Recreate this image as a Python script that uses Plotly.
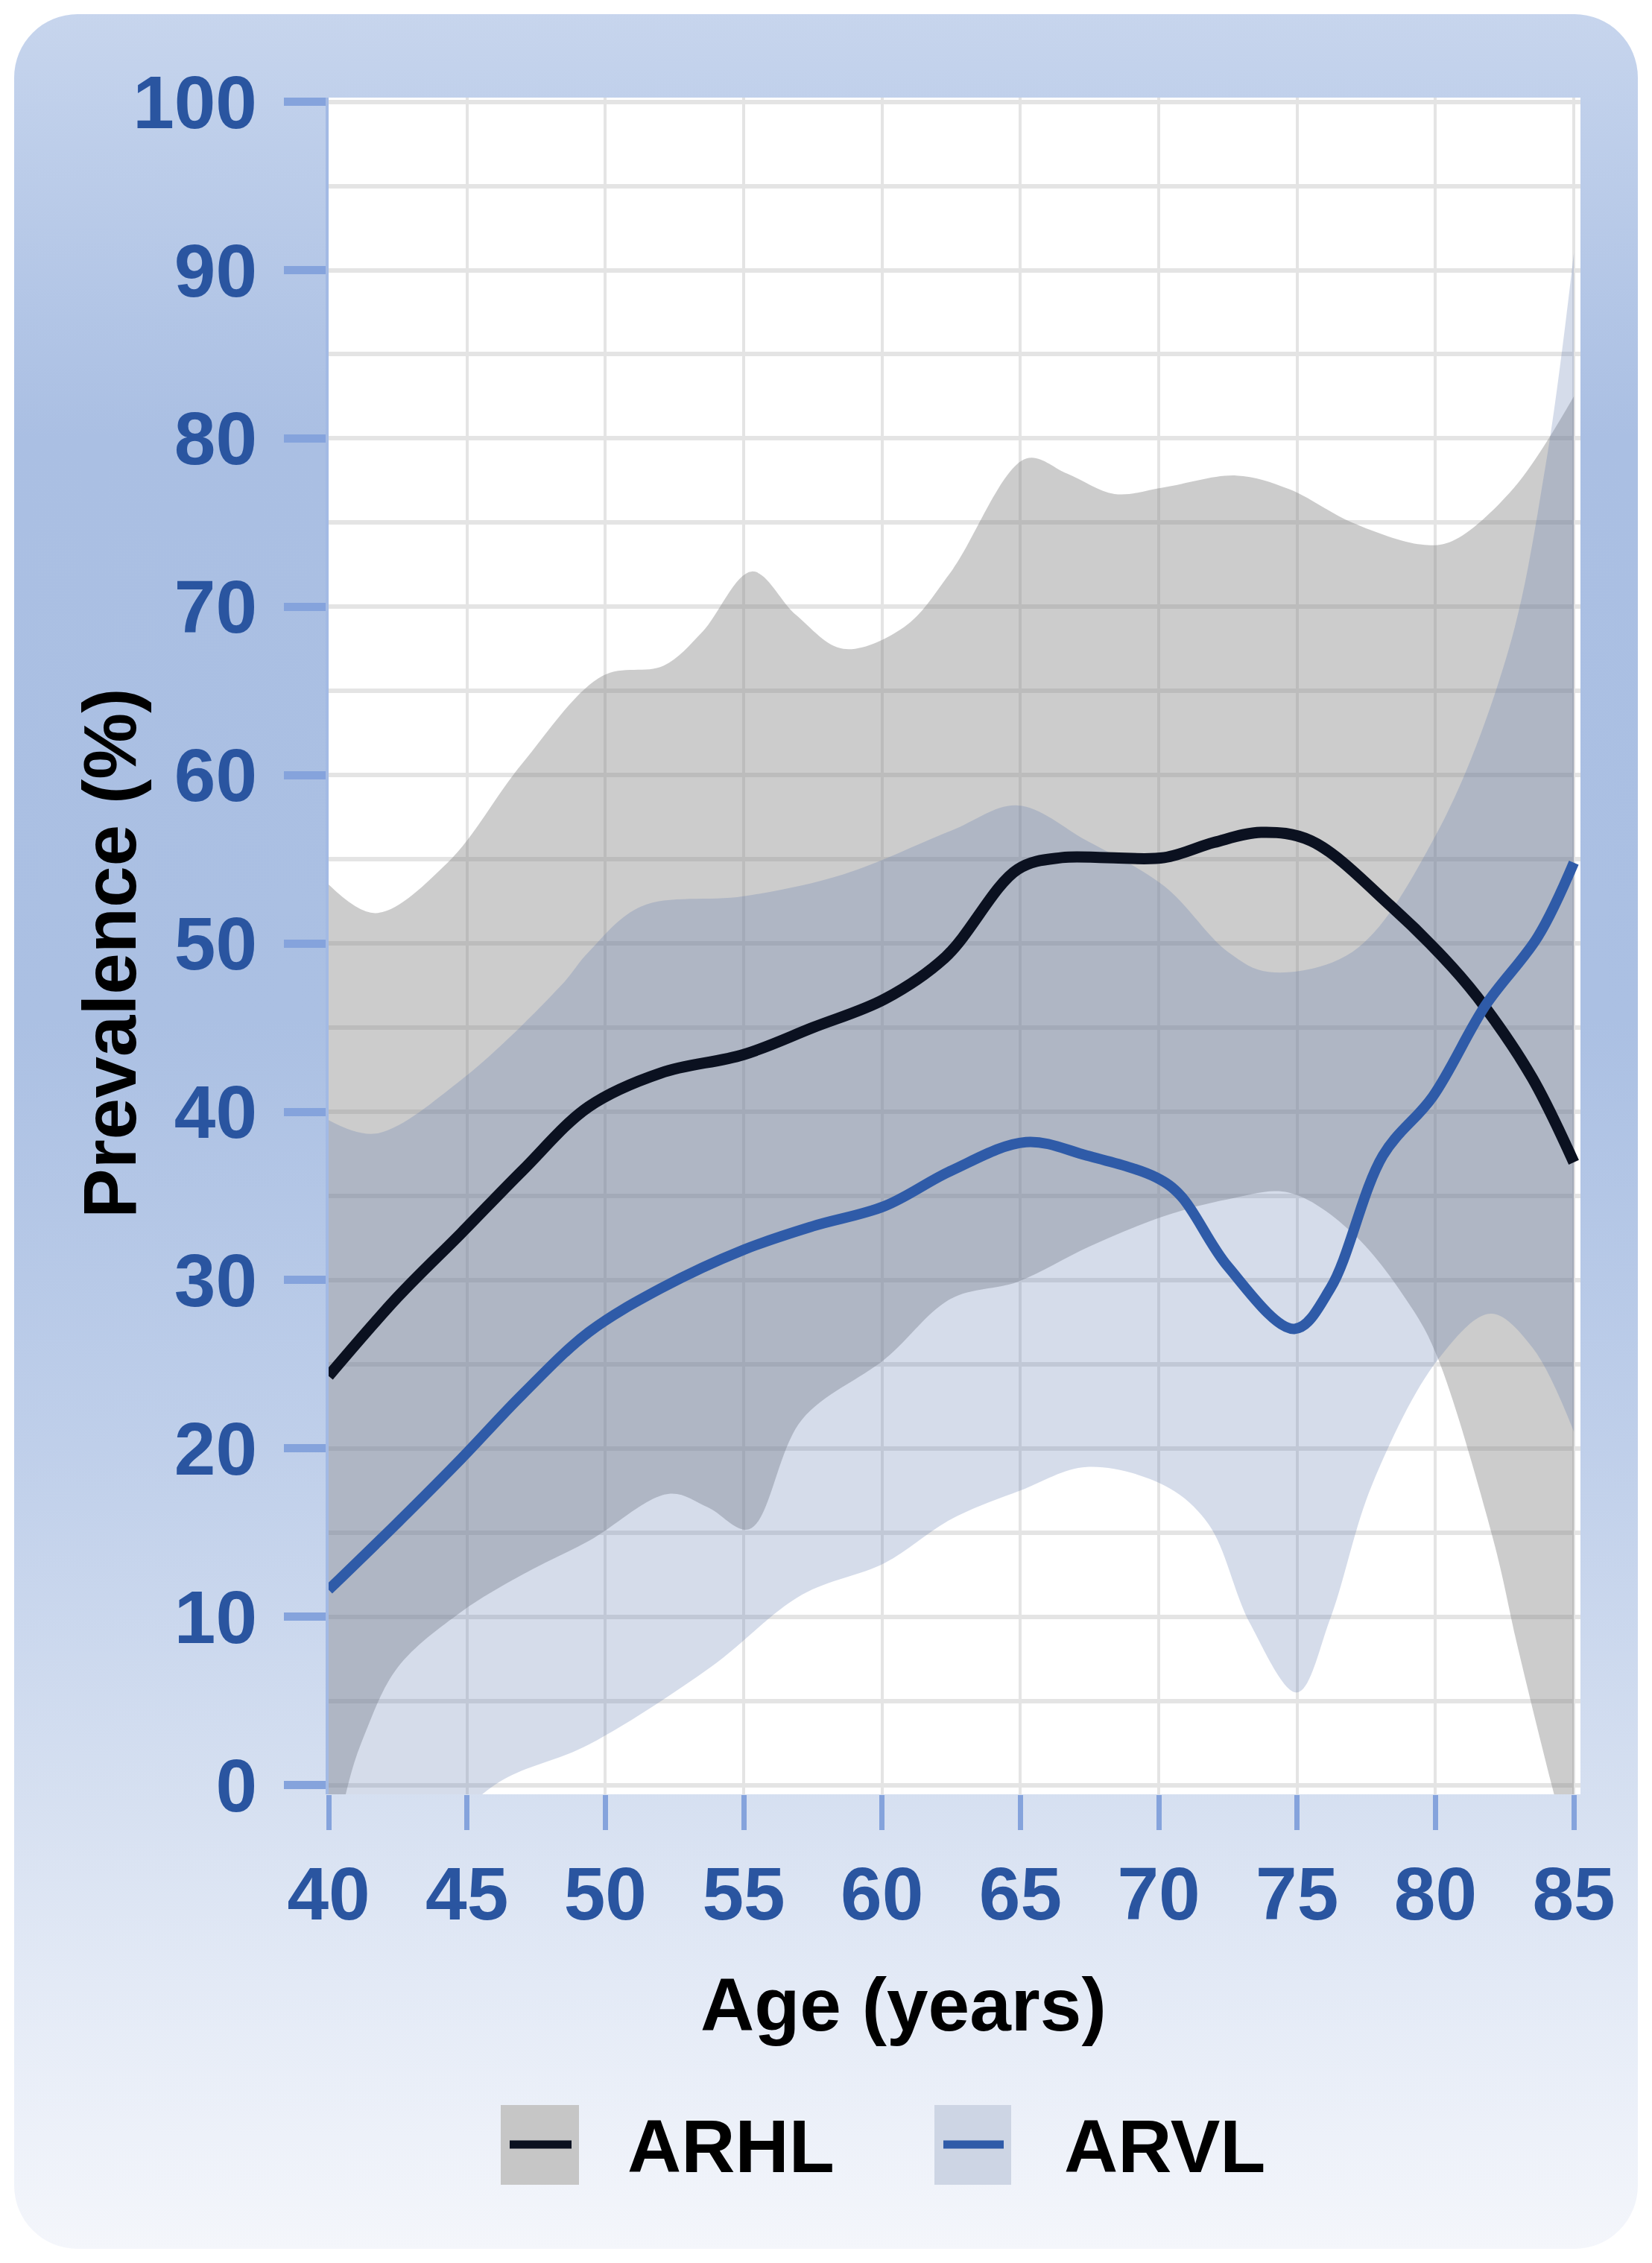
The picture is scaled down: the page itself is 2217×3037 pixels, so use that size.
"""
Prevalence of ARHL and ARVL by age, with confidence bands.
"""

import base64
import plotly.graph_objects as go

# Data

# ARHL central estimate
arhl_age = [40, 42.5, 44.8, 47, 49.4, 52, 55, 57.5, 60.1, 62.3, 64.9, 66.5,
            68.1, 70.2, 72, 73.7, 75.5, 78.4, 80.6, 81.8, 83.5, 85]
arhl_val = [24.3, 29.0, 32.8, 36.5, 40.3, 42.3, 43.4, 45.0, 46.7, 49.2, 54.4, 55.1,
            55.1, 55.1, 56.0, 56.6, 56.1, 52.2, 48.6, 46.2, 42.0, 37.0]

# ARHL band, upper edge
arhl_hi_age = [40, 41.7, 44.3, 47, 49.9, 52.1, 53.5, 55.3, 56.9, 58.6, 60.8, 62.5,
               65.2, 66.7, 68.4, 70.2, 72.8, 74.7, 77, 79.5, 80.6, 82.8, 85]
arhl_hi_val = [53.5, 51.8, 54.8, 60.7, 65.9, 66.5, 68.5, 72.1, 69.5, 67.5, 68.8, 72.1,
               78.8, 77.9, 76.7, 77.1, 77.8, 77.0, 75.0, 73.7, 73.9, 77.0, 82.5]

# ARHL band, lower edge
arhl_lo_age = [40, 40.7, 41.3, 42.5, 44.8, 47, 49.4, 52.3, 53.7, 55.2, 57.1, 60.1,
               62.5, 64.9, 67.5, 70.2, 72.5, 74.7, 77, 79.2, 80.1, 82.1, 83, 84.2, 85]
arhl_lo_val = [-6, 0, 3, 7, 10.3, 12.5, 14.5, 17.3, 16.5, 15.2, 21.7, 25.3,
               28.9, 29.9, 32.0, 33.8, 34.8, 35.2, 32.8, 28.2, 25.3, 14.5, 8, 0, -5]

# ARVL central estimate
arvl_age = [40, 42.5, 44.8, 47, 49.4, 52, 55, 57.5, 60.1, 62.5, 65.2, 67.4,
            69.9, 70.8, 72.5, 74.9, 76.2, 78.1, 79.9, 81.8, 83.7, 85]
arvl_val = [11.6, 15.6, 19.4, 23.2, 26.9, 29.5, 31.8, 33.2, 34.4, 36.5, 38.2, 37.4,
            36.1, 35.0, 30.8, 27.1, 29.5, 37.4, 40.9, 46.3, 50.4, 54.8]

# ARVL band, upper edge
arvl_hi_age = [40, 41.7, 44.8, 48.4, 49.4, 51.3, 55, 58.6, 62.5, 64.9, 67.4, 70.2,
               72.5, 74, 77, 80, 82.6, 84, 85]
arvl_hi_val = [39.5, 38.7, 41.9, 47.5, 49.5, 52.2, 52.8, 54.1, 56.7, 58.2, 56.1, 53.4,
               49.5, 48.3, 49.5, 56.4, 67.2, 78.6, 91.0]

# ARVL band, lower edge
arvl_lo_age = [40, 43, 46, 49.4, 53.8, 57.1, 60.1, 62.5, 65, 67.4, 70.2, 71.8,
               73.3, 75, 76.2, 77.7, 80.1, 82, 83.5, 85]
arvl_lo_val = [-12, -5, 0, 2.4, 7.0, 11.3, 13.2, 15.8, 17.5, 18.9, 17.8, 15.5,
               9.6, 5.5, 9.9, 17.8, 25.3, 28.0, 26.0, 21.0]

x_ticks = [40, 45, 50, 55, 60, 65, 70, 75, 80, 85]
y_ticks = [0, 10, 20, 30, 40, 50, 60, 70, 80, 90, 100]

# Figure geometry (pixels)

W, H = 2217, 3037
L, R, T, B = 441, 96, 131, 629
PW, PH = W - L - R, H - T - B

FONT = "Liberation Sans, Arial, sans-serif"
ARHL_LINE = "#0b1120"
ARVL_LINE = "#2f5ba8"
ARHL_FILL = "rgba(128,128,128,0.40)"
ARVL_FILL = "rgba(93,120,174,0.26)"
TICK_TEXT = "#2a55a0"
TICK_MARK = "#85a3dc"
GRID = "#e4e4e4"


def px(x):
    return (x - L) / PW


def py(y):
    return (H - B - y) / PH


# Background panel: rounded rectangle with a vertical gradient

svg = f"""<svg xmlns="http://www.w3.org/2000/svg" width="{W}" height="{H}" viewBox="0 0 {W} {H}">
<defs><linearGradient id="g" x1="0" y1="0" x2="0" y2="1">
<stop offset="0" stop-color="#c7d5ed"/>
<stop offset="0.04" stop-color="#c0d0eb"/>
<stop offset="0.19" stop-color="#aabfe3"/>
<stop offset="0.45" stop-color="#abc0e3"/>
<stop offset="0.64" stop-color="#bfcfea"/>
<stop offset="0.80" stop-color="#d6e0f1"/>
<stop offset="0.90" stop-color="#e6ecf7"/>
<stop offset="1" stop-color="#f4f6fb"/>
</linearGradient></defs>
<rect x="19" y="19" width="2179" height="2999" rx="85" ry="85" fill="url(#g)"/>
</svg>"""
bg_src = "data:image/svg+xml;base64," + base64.b64encode(svg.encode()).decode()

# Traces

fig = go.Figure()

band_line = dict(width=0, shape="spline", smoothing=1)

fig.add_trace(go.Scatter(x=arhl_lo_age, y=arhl_lo_val, mode="lines", line=band_line,
                         showlegend=False, hoverinfo="skip"))
fig.add_trace(go.Scatter(x=arhl_hi_age, y=arhl_hi_val, mode="lines", line=band_line,
                         fill="tonexty", fillcolor=ARHL_FILL,
                         showlegend=False, hoverinfo="skip"))
fig.add_trace(go.Scatter(x=arvl_lo_age, y=arvl_lo_val, mode="lines", line=band_line,
                         showlegend=False, hoverinfo="skip"))
fig.add_trace(go.Scatter(x=arvl_hi_age, y=arvl_hi_val, mode="lines", line=band_line,
                         fill="tonexty", fillcolor=ARVL_FILL,
                         showlegend=False, hoverinfo="skip"))

fig.add_trace(go.Scatter(x=arhl_age, y=arhl_val, mode="lines", name="ARHL",
                         line=dict(color=ARHL_LINE, width=15, shape="spline", smoothing=1),
                         showlegend=False))
fig.add_trace(go.Scatter(x=arvl_age, y=arvl_val, mode="lines", name="ARVL",
                         line=dict(color=ARVL_LINE, width=14, shape="spline", smoothing=1),
                         showlegend=False))

# Shapes: white plot area, hand-made legend swatches

shapes = [
    dict(type="rect", xref="x domain", yref="y domain", x0=0, x1=1, y0=0, y1=1,
         fillcolor="white", line_width=0, layer="below"),
]

legend_items = [
    # name, swatch left, swatch right, text left, fill, line
    ("ARHL", 672, 777, 840, "#c6c6c6", ARHL_LINE),
    ("ARVL", 1254, 1357, 1426, "#cdd5e4", ARVL_LINE),
]
annotations = []
for name, s0, s1, tx, sfill, lcol in legend_items:
    shapes.append(dict(type="rect", xref="paper", yref="paper",
                       x0=px(s0), x1=px(s1), y0=py(2932), y1=py(2825),
                       fillcolor=sfill, line_width=0))
    shapes.append(dict(type="line", xref="paper", yref="paper",
                       x0=px(s0 + 12), x1=px(s1 - 10), y0=py(2878), y1=py(2878),
                       line=dict(color=lcol, width=11)))
    annotations.append(dict(text=name, xref="paper", yref="paper",
                            x=px(tx), y=py(2880), xanchor="left", yanchor="middle",
                            showarrow=False,
                            font=dict(family=FONT, size=100, color="black", weight="bold")))

# Axis titles
annotations.append(dict(text="Prevalence (%)", xref="paper", yref="paper",
                        x=px(147), y=py(1280), xanchor="center", yanchor="middle",
                        textangle=-90, showarrow=False,
                        font=dict(family=FONT, size=100, color="black", weight="bold")))
annotations.append(dict(text="Age (years)", xref="paper", yref="paper",
                        x=px(1212), y=py(2690), xanchor="center", yanchor="middle",
                        showarrow=False,
                        font=dict(family=FONT, size=100, color="black", weight="bold")))

fig.update_layout(
    width=W,
    height=H,
    margin=dict(l=L, r=R, t=T, b=B, pad=0),
    paper_bgcolor="white",
    plot_bgcolor="white",
    showlegend=False,
    images=[dict(source=bg_src, xref="paper", yref="paper",
                 x=px(0), y=py(0), sizex=W / PW, sizey=H / PH,
                 xanchor="left", yanchor="top", sizing="stretch", layer="below")],
    shapes=shapes,
    annotations=annotations,
)

fig.update_xaxes(
    range=[40, 85.24],
    tickvals=x_ticks,
    ticks="outside",
    ticklen=47,
    tickwidth=7,
    tickcolor=TICK_MARK,
    ticklabelstandoff=0,
    tickfont=dict(family=FONT, size=100, color=TICK_TEXT, weight="bold"),
    showgrid=True,
    gridcolor=GRID,
    gridwidth=4,
    zeroline=False,
    showline=False,
)

fig.update_yaxes(
    range=[-0.55, 100.25],
    tickvals=y_ticks,
    ticks="outside",
    ticklen=56,
    tickwidth=11,
    tickcolor=TICK_MARK,
    ticklabelstandoff=16,
    tickfont=dict(family=FONT, size=100, color=TICK_TEXT, weight="bold"),
    showgrid=True,
    gridcolor=GRID,
    gridwidth=6,
    minor=dict(dtick=5, tick0=0, showgrid=True, gridcolor=GRID, gridwidth=6, ticks=""),
    zeroline=False,
    showline=True,
    linecolor="#a3bae4",
    linewidth=4,
)

fig.write_html("out.html", config={"displayModeBar": False},
               post_script="document.body.style.margin='0px';")
